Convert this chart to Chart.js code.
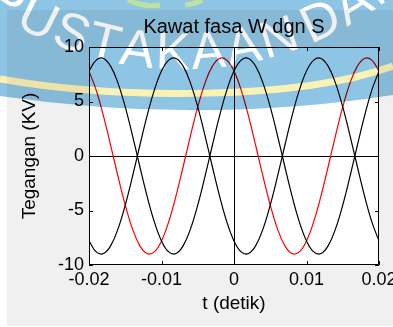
<!DOCTYPE html>
<html>
<head>
<meta charset="utf-8">
<script src="https://cdn.jsdelivr.net/npm/chart.js@4.4.1/dist/chart.umd.min.js"></script>
<style>
  html, body { margin: 0; padding: 0; background: #fff; }
  #wrap { width: 393px; height: 327px; position: relative; }
</style>
</head>
<body>
<div id="wrap"><canvas id="myChart"></canvas></div>
<script>
// waktu (detik) dan tegangan (KV)
let waktu = [-0.02, -0.019, -0.018, -0.017, -0.016, -0.015, -0.014, -0.013, -0.012, -0.011,
  -0.01, -0.009, -0.008, -0.007, -0.006, -0.005, -0.004, -0.003, -0.002, -0.001,
  0, 0.001, 0.002, 0.003, 0.004, 0.005, 0.006, 0.007, 0.008, 0.009,
  0.01, 0.011, 0.012, 0.013, 0.014, 0.015, 0.016, 0.017, 0.018, 0.019, 0.02];

let hitam1 = [7.79, 8.80, 8.95, 8.22, 6.69, 4.50, 1.87, -0.94, -3.66, -6.02,
  -7.79, -8.80, -8.95, -8.22, -6.69, -4.50, -1.87, 0.94, 3.66, 6.02,
  7.79, 8.80, 8.95, 8.22, 6.69, 4.50, 1.87, -0.94, -3.66, -6.02,
  -7.79, -8.80, -8.95, -8.22, -6.69, -4.50, -1.87, 0.94, 3.66, 6.02, 7.79];

let hitam2 = [-7.79, -8.80, -8.95, -8.22, -6.69, -4.50, -1.87, 0.94, 3.66, 6.02,
  7.79, 8.80, 8.95, 8.22, 6.69, 4.50, 1.87, -0.94, -3.66, -6.02,
  -7.79, -8.80, -8.95, -8.22, -6.69, -4.50, -1.87, 0.94, 3.66, 6.02,
  7.79, 8.80, 8.95, 8.22, 6.69, 4.50, 1.87, -0.94, -3.66, -6.02, -7.79];

let merah = [7.79, 6.02, 3.66, 0.94, -1.87, -4.50, -6.69, -8.22, -8.95, -8.80,
  -7.79, -6.02, -3.66, -0.94, 1.87, 4.50, 6.69, 8.22, 8.95, 8.80,
  7.79, 6.02, 3.66, 0.94, -1.87, -4.50, -6.69, -8.22, -8.95, -8.80,
  -7.79, -6.02, -3.66, -0.94, 1.87, 4.50, 6.69, 8.22, 8.95, 8.80, 7.79];

let xTicks = [-0.02, -0.01, 0, 0.01, 0.02];
let yTicks = [-10, -5, 0, 5, 10];

function toPoints(ys) {
  return waktu.map((t, i) => ({ x: t, y: ys[i] }));
}

function drawWatermark(ctx, w, h) {
  let off = document.createElement("canvas");
  off.width = w;
  off.height = h;
  let o = off.getContext("2d");

  o.fillStyle = "rgb(142,197,228)";
  o.beginPath();
  o.moveTo(0, 0);
  o.lineTo(w, 0);
  o.lineTo(w, 95);
  o.quadraticCurveTo(200, 125, 0, 96);
  o.closePath();
  o.fill();

  o.strokeStyle = "rgb(250,242,180)";
  o.lineWidth = 7;
  o.beginPath();
  o.moveTo(0, 79);
  o.bezierCurveTo(120, 100, 300, 100, w, 66);
  o.stroke();

  o.strokeStyle = "rgb(190,225,160)";
  o.lineWidth = 5;
  o.beginPath();
  o.moveTo(128, 0);
  o.quadraticCurveTo(145, 8, 160, 5);
  o.moveTo(185, 5);
  o.quadraticCurveTo(195, 4, 202, 0);
  o.stroke();

  // huruf putih melengkung
  o.globalCompositeOperation = "destination-out";
  o.font = "52px 'Liberation Sans'";
  o.textAlign = "center";
  o.textBaseline = "alphabetic";
  let text = "PUSTAKAAN DAN";
  let cx = 182, r = 340, cy = 69 - r;
  let s = -214;
  for (let ch of text) {
    let cw = ch === " " ? 7 : o.measureText(ch).width + 2.5;
    let a = (s + cw / 2) / r;
    o.save();
    o.translate(cx + r * Math.sin(a), cy + r * Math.cos(a));
    o.rotate(-a);
    o.fillText(ch, 0, 0);
    o.restore();
    s += cw;
  }

  ctx.save();
  ctx.globalCompositeOperation = "multiply";
  ctx.drawImage(off, 0, 0);
  ctx.restore();
}

const figurePlugin = {
  id: "figure",
  beforeDraw(chart) {
    let ctx = chart.ctx, a = chart.chartArea;
    ctx.save();
    ctx.fillStyle = "#fff";
    ctx.fillRect(0, 0, chart.width, chart.height);
    ctx.fillStyle = "#f0f0f0";
    ctx.fillRect(7, 10, chart.width - 7, 316);
    ctx.fillStyle = "#fff";
    ctx.fillRect(a.left, a.top, a.right - a.left, a.bottom - a.top);
    ctx.restore();
  },
  afterDatasetsDraw(chart) {
    let ctx = chart.ctx, a = chart.chartArea;
    let x = chart.scales.x, y = chart.scales.y;
    ctx.save();
    ctx.strokeStyle = "#000";
    ctx.lineWidth = 1;
    ctx.beginPath();
    ctx.rect(Math.round(a.left) + 0.5, Math.round(a.top) + 0.5,
      Math.round(a.right - a.left) - 1, Math.round(a.bottom - a.top) - 1);
    x.ticks.forEach(t => {
      let px = Math.round(x.getPixelForValue(t.value)) + 0.5;
      ctx.moveTo(px, a.bottom);
      ctx.lineTo(px, a.bottom - 4);
      ctx.moveTo(px, a.top);
      ctx.lineTo(px, a.top + 4);
    });
    y.ticks.forEach(t => {
      let py = Math.round(y.getPixelForValue(t.value)) + 0.5;
      ctx.moveTo(a.left, py);
      ctx.lineTo(a.left + 4, py);
      ctx.moveTo(a.right, py);
      ctx.lineTo(a.right - 4, py);
    });
    ctx.stroke();
    ctx.restore();
  },
  afterDraw(chart) {
    drawWatermark(chart.ctx, chart.width, chart.height);
  }
};

const zeroGrid = c => (c.tick && c.tick.value === 0) ? "#000" : "rgba(0,0,0,0)";

new Chart(document.getElementById("myChart"), {
  type: "line",
  data: {
    datasets: [
      { data: toPoints(hitam1), borderColor: "#000", borderWidth: 1.2, pointRadius: 0, tension: 0.4 },
      { data: toPoints(hitam2), borderColor: "#000", borderWidth: 1.2, pointRadius: 0, tension: 0.4 },
      { data: toPoints(merah), borderColor: "#ff0000", borderWidth: 1.2, pointRadius: 0, tension: 0.4 }
    ]
  },
  options: {
    responsive: true,
    maintainAspectRatio: false,
    animation: false,
    layout: { padding: { left: 0, right: 14, top: 0, bottom: 0 } },
    plugins: {
      legend: { display: false },
      tooltip: { enabled: false },
      title: {
        display: true,
        text: "Kawat fasa W dgn S",
        fullSize: false,
        color: "#000",
        font: { family: "'Liberation Sans', Arial, sans-serif", size: 20, weight: "normal" },
        padding: { top: 15, bottom: 8 }
      }
    },
    scales: {
      x: {
        type: "linear",
        min: -0.02,
        max: 0.02,
        afterBuildTicks: s => { s.ticks = xTicks.map(v => ({ value: v })); },
        afterFit: s => { s.height = 62; s.paddingLeft = 0; s.paddingRight = 0; },
        border: { display: false },
        grid: { color: zeroGrid, lineWidth: 1, drawTicks: false },
        ticks: {
          color: "#000",
          padding: 4,
          maxRotation: 0,
          autoSkip: false,
          font: { family: "'Liberation Sans', Arial, sans-serif", size: 18 },
          callback: v => String(Number(v.toFixed(2)))
        },
        title: {
          display: true,
          text: "t (detik)",
          color: "#000",
          font: { family: "'Liberation Sans', Arial, sans-serif", size: 19 },
          padding: { top: 0, bottom: 12 }
        }
      },
      y: {
        min: -10,
        max: 10,
        afterBuildTicks: s => { s.ticks = yTicks.map(v => ({ value: v })); },
        afterFit: s => { s.width = 89; },
        border: { display: false },
        grid: { color: zeroGrid, lineWidth: 1, drawTicks: false },
        ticks: {
          color: "#000",
          padding: 5,
          autoSkip: false,
          font: { family: "'Liberation Sans', Arial, sans-serif", size: 18 }
        },
        title: {
          display: true,
          text: "Tegangan (KV)",
          color: "#000",
          font: { family: "'Liberation Sans', Arial, sans-serif", size: 19 },
          padding: { top: 18, bottom: 0 }
        }
      }
    }
  },
  plugins: [figurePlugin]
});
</script>
</body>
</html>
